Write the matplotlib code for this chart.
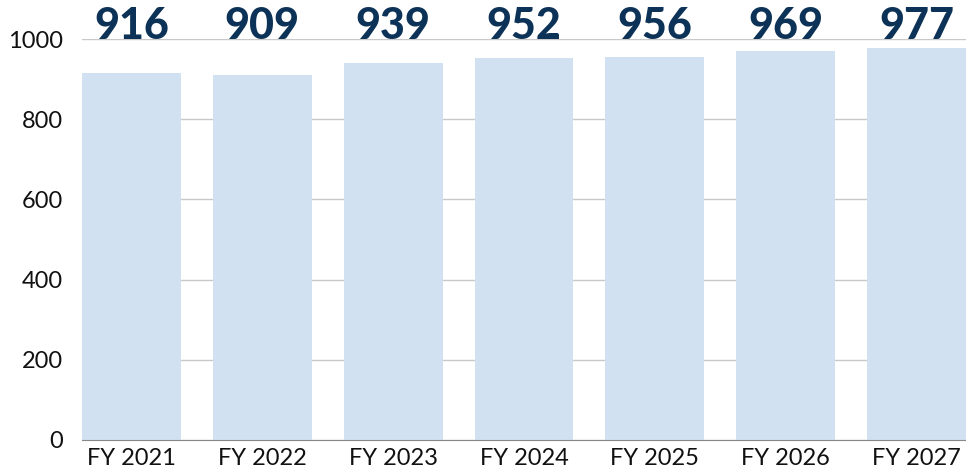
import matplotlib.pyplot as plt

# dados
years = ['FY 2021', 'FY 2022', 'FY 2023', 'FY 2024', 'FY 2025', 'FY 2026', 'FY 2027']
values = [916, 909, 939, 952, 956, 969, 977]
yticks = [0, 200, 400, 600, 800, 1000]

plt.rcParams['font.family'] = ['Lato', 'DejaVu Sans']

fig = plt.figure(figsize=(9.66, 4.71), dpi=100)
ax = fig.add_axes([82 / 966, 1 - 440 / 471, 1 - 82 / 966, 401 / 471])

x = range(len(years))
ax.bar(x, values, width=0.755, color='#d1e1f1', zorder=2)

# rótulos no topo, todos na mesma altura
for i, v in enumerate(values):
    ax.text(i, 1000, str(v), ha='center', va='baseline', fontsize=31,
            fontweight='black', color='#0c3257', zorder=3, clip_on=False)

ax.set_xlim(-0.3775, len(years) - 1 + 0.3775)
ax.set_ylim(0, 1000)
ax.set_yticks(yticks)
ax.set_xticks(list(x))
ax.set_xticklabels(years)
ax.grid(axis='y', color='#c8c8c8', linewidth=1, zorder=0)
ax.tick_params(axis='both', length=0, labelsize=17, colors='#111111')
ax.tick_params(axis='y', pad=14)
ax.tick_params(axis='x', pad=6)
for s in ['top', 'right', 'left']:
    ax.spines[s].set_visible(False)
ax.spines['bottom'].set_color('#888888')
ax.spines['bottom'].set_zorder(3)

plt.savefig('out.png', dpi=100)
